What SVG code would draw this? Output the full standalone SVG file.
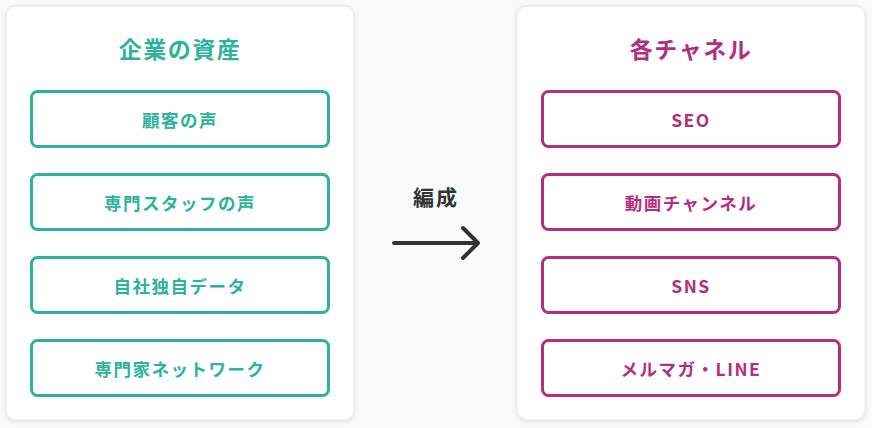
<svg xmlns="http://www.w3.org/2000/svg" width="872" height="428" viewBox="0 0 872 428">
<defs>
<filter id="sh" x="-5%" y="-5%" width="110%" height="110%"><feDropShadow dx="0" dy="1" stdDeviation="2" flood-color="#000" flood-opacity="0.12"/></filter>
</defs>
<style>
text{font-family:"Noto Sans CJK JP","Noto Sans",sans-serif;font-weight:700;text-anchor:middle;dominant-baseline:central}
.panel{fill:#fff;stroke:#e6e6e6;stroke-width:1}
.t{fill:#2bb39b}.m{fill:#b32e7d}
.bt{fill:#fff;stroke:#2bb39b;stroke-width:3}
.bm{fill:#fff;stroke:#b32e7d;stroke-width:3}
.title{font-size:23px;letter-spacing:1.5px}.lbl{font-size:17.5px;letter-spacing:1.5px}
</style>
<rect width="872" height="428" fill="#fafafa"/>
<g id="left">
<rect class="panel" x="6" y="6" width="348" height="414" rx="10" filter="url(#sh)"/>
<text class="t title" x="180" y="48">企業の資産</text>
</g>
<g id="n1"><rect class="bt" x="31.5" y="91.5" width="297" height="55" rx="6"/><text class="t lbl" x="180" y="119">顧客の声</text></g>
<g id="n2"><rect class="bt" x="31.5" y="174.5" width="297" height="55" rx="6"/><text class="t lbl" x="180" y="202">専門スタッフの声</text></g>
<g id="n3"><rect class="bt" x="31.5" y="257.5" width="297" height="55" rx="6"/><text class="t lbl" x="180" y="285">自社独自データ</text></g>
<g id="n4"><rect class="bt" x="31.5" y="340.5" width="297" height="55" rx="6"/><text class="t lbl" x="180" y="368">専門家ネットワーク</text></g>
<g id="right">
<rect class="panel" x="517" y="6" width="348" height="414" rx="10" filter="url(#sh)"/>
<text class="m title" x="691" y="48">各チャネル</text>
</g>
<g id="r1"><rect class="bm" x="542.5" y="91.5" width="297" height="55" rx="6"/><text class="m lbl" x="691" y="119">SEO</text></g>
<g id="r2"><rect class="bm" x="542.5" y="174.5" width="297" height="55" rx="6"/><text class="m lbl" x="691" y="202">動画チャンネル</text></g>
<g id="r3"><rect class="bm" x="542.5" y="257.5" width="297" height="55" rx="6"/><text class="m lbl" x="691" y="285">SNS</text></g>
<g id="r4"><rect class="bm" x="542.5" y="340.5" width="297" height="55" rx="6"/><text class="m lbl" x="691" y="368">メルマガ・LINE</text></g>
<g id="connectors">
<text x="436" y="196" style="font-size:21px;letter-spacing:2px;fill:#333">編成</text>
<path d="M394 243H477M463 228L478 243L463 258" fill="none" stroke="#333" stroke-width="4" stroke-linecap="round" stroke-linejoin="round"/>
</g>
</svg>
